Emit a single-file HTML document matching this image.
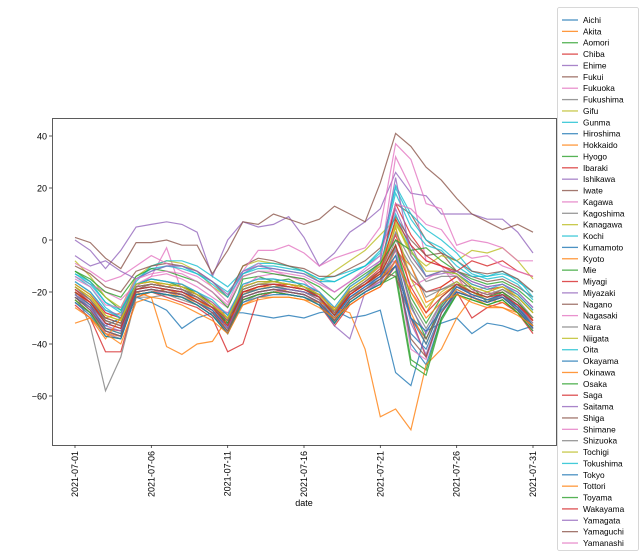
<!DOCTYPE html>
<html><head><meta charset="utf-8"><style>
body{margin:0;background:#fff;width:640px;height:557px;overflow:hidden;font-family:"Liberation Sans","DejaVu Sans",sans-serif}
svg{display:block}
</style></head><body>
<svg id="chart" width="640" height="557" xmlns="http://www.w3.org/2000/svg">
<g id="plot"></g>
<rect x="52.5" y="118.5" width="504" height="327" fill="none" stroke="#333" stroke-width="0.8"/>
<g id="yaxis"></g>
<g id="xaxis"></g>
<text x="304" y="506" font-size="9" text-anchor="middle" fill="#000">date</text>
<rect x="557.5" y="7.5" width="81" height="543" rx="2" fill="#fff" stroke="#ccc" stroke-width="0.8"/>
<g id="legend"></g>
</svg>
<script>
const dates = ["2021-07-01","2021-07-06","2021-07-11","2021-07-16","2021-07-21","2021-07-26","2021-07-31"];
const yTicks = [40,20,0,-20,-40,-60];
const names = ["Aichi","Akita","Aomori","Chiba","Ehime","Fukui","Fukuoka","Fukushima","Gifu","Gunma","Hiroshima","Hokkaido","Hyogo","Ibaraki","Ishikawa","Iwate","Kagawa","Kagoshima","Kanagawa","Kochi","Kumamoto","Kyoto","Mie","Miyagi","Miyazaki","Nagano","Nagasaki","Nara","Niigata","Oita","Okayama","Okinawa","Osaka","Saga","Saitama","Shiga","Shimane","Shizuoka","Tochigi","Tokushima","Tokyo","Tottori","Toyama","Wakayama","Yamagata","Yamaguchi","Yamanashi"];
const sAichi=[-24,-28,-33,-30,-22,-24,-27,-34,-30,-28,-28,-28,-29,-30,-29,-30,-28,-27,-30,-29,-27,-51,-56,-35,-32,-30,-36,-32,-33,-35,-33];
const sAkita=[-18,-22,-30,-28,-17,-16,-18,-17,-21,-24,-30,-21,-18,-18,-17,-19,-22,-28,-20,-17,-12,5,-20,-28,-18,-14,-22,-20,-22,-25,-30];
const sAomori=[-12,-16,-22,-27,-17,-15,-16,-18,-20,-25,-33,-15,-14,-16,-15,-18,-22,-32,-24,-20,-17,-2,-25,-38,-25,-17,-18,-24,-20,-26,-34];
const sChiba=[-25,-30,-43,-43,-22,-20,-22,-24,-26,-30,-43,-40,-22,-20,-21,-22,-25,-33,-25,-21,-18,-10,-30,-45,-28,-20,-30,-26,-24,-28,-36];
const sEhime=[0,-4,-11,-4,5,6,7,6,3,-14,0,7,5,6,9,1,-10,-5,3,7,12,26,18,17,10,10,10,8,8,3,-5];
const sFukui=[-20,-24,-30,-32,-18,-17,-18,-19,-22,-26,-30,-18,-16,-16,-17,-18,-20,-28,-18,-14,-10,14,10,0,-5,-12,-14,-16,-15,-18,-22];
const sFukuoka=[-16,-20,-28,-30,-18,-14,-3,-20,-22,-25,-28,-18,-14,-13,-14,-16,-22,-28,-18,-14,-8,32,20,-8,-10,-18,-20,-18,-22,-26,-34];
const sFukushima=[-19,-23,-31,-33,-21,-20,-19,-21,-24,-28,-33,-20,-19,-18,-18,-19,-22,-28,-20,-17,-14,0,-10,-22,-19,-16,-20,-23,-21,-24,-30];
const sGifu=[-8,-14,-22,-26,-14,-10,-8,-9,-12,-18,-22,-10,-8,-9,-10,-12,-16,-12,-8,-4,2,8,-5,-10,-6,-8,-4,-5,-3,-8,-15];
const sGunma=[-14,-18,-26,-30,-16,-10,-8,-8,-10,-14,-18,-12,-9,-9,-10,-12,-15,-14,-12,-10,-5,21,10,4,0,-5,-12,-14,-12,-16,-20];
const sHiroshima=[-22,-27,-35,-37,-20,-19,-20,-21,-24,-28,-35,-22,-20,-19,-20,-21,-24,-31,-23,-19,-16,-8,-40,-48,-30,-20,-22,-24,-22,-26,-34];
const sHokkaido=[-20,-24,-32,-34,-22,-20,-19,-21,-23,-26,-31,-23,-21,-20,-19,-20,-22,-28,-22,-19,-16,-4,-10,-24,-21,-17,-21,-23,-24,-27,-31];
const sHyogo=[-23,-28,-36,-38,-21,-20,-21,-22,-25,-29,-36,-23,-21,-20,-21,-22,-25,-32,-24,-20,-17,-12,-46,-50,-30,-21,-23,-25,-23,-28,-35];
const sIbaraki=[-20,-25,-34,-35,-19,-18,-19,-20,-23,-27,-34,-21,-19,-18,-19,-20,-23,-29,-21,-17,-13,2,-15,-20,-18,-14,-19,-21,-20,-24,-31];
const sIshikawa=[-16,-20,-27,-29,-17,-15,-16,-17,-20,-24,-29,-17,-15,-15,-16,-17,-20,-27,-19,-15,-10,12,-2,-14,-13,-12,-16,-18,-17,-20,-26];
const sIwate=[-18,-23,-30,-32,-19,-17,-18,-19,-21,-25,-32,-19,-17,-17,-18,-19,-21,-27,-20,-16,-12,-14,-30,-38,-26,-18,-20,-22,-19,-22,-28];
const sKagawa=[-14,-17,-20,-23,-17,-14,-13,-15,-18,-22,-26,-13,-9,-12,-14,-15,-20,-26,-18,-14,-10,-8,-18,-15,-12,-14,-22,-20,-22,-26,-35];
const sKagoshima=[-20,-33,-58,-45,-22,-22,-21,-23,-25,-29,-36,-24,-21,-20,-21,-22,-24,-31,-23,-19,-16,-6,-24,-34,-24,-18,-21,-23,-21,-26,-33];
const sKanagawa=[-21,-26,-34,-36,-19,-18,-19,-20,-23,-27,-33,-21,-19,-18,-19,-20,-23,-29,-21,-17,-13,5,-15,-26,-20,-16,-20,-23,-21,-25,-32];
const sKochi=[-13,-16,-24,-28,-15,-11,-10,-10,-13,-16,-20,-13,-10,-10,-11,-12,-15,-16,-13,-10,-6,18,5,-2,-4,-10,-14,-14,-13,-15,-22];
const sKumamoto=[-21,-25,-32,-34,-19,-18,-19,-20,-22,-26,-32,-21,-19,-18,-19,-20,-22,-29,-22,-18,-15,-10,-36,-42,-28,-19,-22,-24,-21,-25,-33];
const sKyoto=[-23,-28,-36,-37,-20,-19,-20,-22,-24,-28,-35,-22,-20,-19,-20,-21,-24,-31,-23,-19,-15,-8,-28,-40,-26,-19,-22,-24,-22,-27,-34];
const sMie=[-20,-24,-31,-33,-18,-17,-18,-19,-22,-26,-32,-20,-18,-17,-18,-19,-22,-29,-21,-17,-13,-2,-22,-32,-22,-17,-20,-22,-20,-24,-30];
const sMiyagi=[-17,-21,-28,-30,-17,-16,-17,-18,-21,-25,-31,-19,-17,-17,-17,-18,-21,-27,-20,-16,-11,14,2,-6,-10,-13,-17,-19,-18,-21,-27];
const sMiyazaki=[-22,-26,-33,-35,-20,-19,-20,-21,-24,-27,-33,-22,-20,-19,-19,-20,-23,-30,-22,-18,-14,-4,-26,-36,-24,-18,-21,-23,-21,-25,-32];
const sNagano=[-10,-13,-18,-20,-12,-10,-9,-10,-12,-16,-22,-10,-7,-8,-10,-11,-14,-14,-11,-8,-3,9,0,-6,-5,-8,-12,-13,-12,-15,-20];
const sNagasaki=[-22,-27,-36,-38,-21,-20,-20,-21,-24,-28,-36,-23,-21,-20,-20,-21,-24,-31,-23,-19,-16,-8,-42,-46,-28,-20,-22,-24,-22,-27,-34];
const sNara=[-24,-28,-35,-37,-21,-20,-21,-22,-25,-29,-35,-23,-21,-20,-21,-22,-25,-31,-23,-19,-15,-3,-13,-20,-19,-17,-21,-23,-22,-26,-33];
const sNiigata=[-18,-22,-29,-31,-17,-16,-17,-18,-21,-25,-30,-19,-17,-16,-17,-18,-21,-27,-19,-15,-10,7,-6,-14,-12,-13,-18,-20,-18,-22,-28];
const sOita=[-16,-20,-27,-30,-17,-15,-16,-17,-20,-23,-29,-17,-15,-15,-16,-17,-20,-26,-18,-14,-9,10,-4,-14,-12,-13,-17,-19,-17,-21,-27];
const sOkayama=[-22,-26,-34,-36,-20,-19,-20,-21,-24,-27,-34,-22,-20,-19,-20,-21,-24,-30,-22,-18,-14,-6,-30,-40,-26,-18,-21,-23,-21,-26,-33];
const sOkinawa=[-32,-30,-38,-30,-20,-22,-41,-44,-40,-39,-30,-25,-22,-22,-22,-23,-24,-26,-28,-42,-68,-65,-73,-48,-42,-30,-22,-25,-26,-28,-33];
const sOsaka=[-23,-28,-37,-38,-21,-20,-21,-22,-25,-29,-36,-23,-21,-20,-21,-22,-25,-32,-24,-20,-17,-14,-48,-52,-31,-21,-23,-25,-23,-28,-35];
const sSaga=[-20,-24,-31,-33,-18,-17,-18,-19,-22,-26,-31,-20,-18,-17,-18,-19,-22,-28,-21,-17,-13,-2,-18,-28,-22,-17,-20,-22,-21,-25,-31];
const sSaitama=[-21,-26,-35,-37,-20,-19,-20,-21,-24,-28,-34,-22,-20,-19,-20,-21,-24,-33,-38,-20,-16,-8,-32,-44,-28,-20,-22,-24,-22,-27,-34];
const sShiga=[-22,-27,-35,-37,-20,-19,-20,-21,-24,-28,-35,-22,-20,-19,-20,-21,-24,-31,-23,-19,-15,-10,-38,-45,-28,-20,-22,-24,-22,-27,-34];
const sShimane=[-9,-12,-16,-14,-10,-6,-9,-12,-14,-18,-24,-12,-4,-4,-2,-5,-10,-7,-5,-3,5,37,31,14,12,-2,0,-1,-3,-8,-8];
const sShizuoka=[-19,-23,-31,-33,-18,-17,-18,-19,-22,-26,-31,-19,-17,-17,-18,-19,-22,-28,-20,-16,-12,3,-8,-16,-14,-14,-19,-21,-19,-23,-30];
const sTochigi=[-17,-21,-29,-31,-17,-16,-17,-18,-21,-25,-30,-18,-16,-16,-17,-18,-21,-27,-19,-15,-9,6,-4,-12,-12,-13,-18,-20,-18,-22,-28];
const sTokushima=[-13,-17,-24,-27,-15,-12,-10,-11,-13,-17,-22,-13,-11,-11,-12,-13,-16,-16,-13,-10,-4,20,8,0,-3,-8,-13,-15,-14,-17,-23];
const sTokyo=[-24,-29,-37,-38,-21,-20,-21,-22,-25,-29,-36,-24,-22,-21,-21,-22,-25,-32,-24,-20,-17,-10,-30,-35,-27,-20,-22,-24,-22,-27,-34];
const sTottori=[-26,-30,-36,-40,-24,-22,-23,-25,-28,-31,-36,-25,-23,-22,-22,-23,-26,-30,-25,-21,-18,-8,-20,-30,-24,-21,-24,-26,-26,-29,-33];
const sToyama=[-12,-15,-20,-22,-14,-11,-12,-14,-16,-20,-26,-14,-12,-13,-14,-15,-18,-23,-17,-13,-9,0,-4,-3,-8,-12,-15,-17,-16,-19,-24];
const sWakayama=[-19,-24,-32,-34,-19,-18,-19,-20,-23,-26,-33,-20,-18,-17,-18,-19,-22,-29,-21,-17,-12,8,-2,-8,-10,-12,-8,-10,-8,-12,-14];
const sYamagata=[-6,-10,-8,-12,-15,-12,-10,-10,-12,-16,-21,-12,-10,-11,-12,-13,-16,-20,-16,-12,-8,24,-6,-14,-12,-12,-16,-18,-17,-20,-26];
const sYamaguchi=[1,-1,-7,-11,-1,-1,0,-2,-2,-13,-4,7,6,10,8,6,8,13,10,7,22,41,36,28,23,16,10,7,4,6,3];
const sYamanashi=[-15,-18,-25,-26,-15,-13,-12,-13,-16,-20,-25,-14,-12,-12,-13,-14,-17,-20,-16,-11,-6,14,12,6,4,-4,-7,-6,-10,-12,-14];
const series=[sAichi,sAkita,sAomori,sChiba,sEhime,sFukui,sFukuoka,sFukushima,sGifu,sGunma,sHiroshima,sHokkaido,sHyogo,sIbaraki,sIshikawa,sIwate,sKagawa,sKagoshima,sKanagawa,sKochi,sKumamoto,sKyoto,sMie,sMiyagi,sMiyazaki,sNagano,sNagasaki,sNara,sNiigata,sOita,sOkayama,sOkinawa,sOsaka,sSaga,sSaitama,sShiga,sShimane,sShizuoka,sTochigi,sTokushima,sTokyo,sTottori,sToyama,sWakayama,sYamagata,sYamaguchi,sYamanashi];
const colors=["#1f77b4","#ff7f0e","#2ca02c","#d62728","#9467bd","#8c564b","#e377c2","#7f7f7f","#bcbd22","#17becf"];
const NS="http://www.w3.org/2000/svg";
function xS(i){return 75+i*(458/30);}
function yS(v){return 240-v*2.6;}
function mk(t,a,p){const e=document.createElementNS(NS,t);for(const k in a)e.setAttribute(k,a[k]);p.appendChild(e);return e;}
const plot=document.getElementById('plot');
series.forEach((s,k)=>{
  const p=mk('polyline',{points:s.map((v,i)=>xS(i).toFixed(1)+','+yS(v).toFixed(1)).join(' '),fill:'none',stroke:colors[k%10],'stroke-width':1.2,'stroke-opacity':0.8},plot);
  
  
});
const ya=document.getElementById('yaxis');
yTicks.forEach(t=>{
  const y=yS(t);
  const l=mk('line',{x1:49,x2:52,y1:y,y2:y,stroke:'#333','stroke-width':0.8},ya);
  
  
  const tx=mk('text',{x:47,y:y+3.5,'font-size':9,'text-anchor':'end',fill:'#000'},ya);
  tx.textContent=t<0?'\u2212'+(-t):String(t);
  
  
});
const xa=document.getElementById('xaxis');
dates.forEach((d,j)=>{
  const x=xS(j*5);
  const l=mk('line',{x1:x,x2:x,y1:445,y2:448,stroke:'#333','stroke-width':0.8},xa);
  
  
  const tx=mk('text',{x:0,y:0,'font-size':9,'text-anchor':'end',transform:'translate('+(x+3)+',451) rotate(-90)',fill:'#000'},xa);
  tx.textContent=d;
  
  
});
const lg=document.getElementById('legend');
names.forEach((n,k)=>{
  const y=20+k*11.37;
  const g=mk('g',{},lg);
  
  
  mk('line',{x1:562,x2:578,y1:y,y2:y,stroke:colors[k%10],'stroke-width':1.3,'stroke-opacity':0.8},g);
  const t=mk('text',{x:583,y:y+3,'font-size':8.3,fill:'#000'},g);
  t.textContent=n;
});
</script>
</body></html>
